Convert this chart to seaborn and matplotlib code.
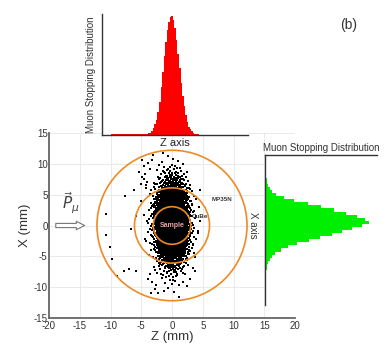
import numpy as np
import pandas as pd
import matplotlib
matplotlib.use("Agg")
import matplotlib.pyplot as plt
from matplotlib.patches import Circle
import seaborn as sns

# ---------------- data ----------------
# Z-profile (red histogram), 0.25 mm bins from -5 to 5, peak = 100
z_centers = np.arange(-4.875, 5.0, 0.25)
z_counts = [1, 1, 1, 1, 2, 2, 3, 6, 9, 13, 19, 28, 40, 53, 66, 78, 88, 95, 99, 100,
            97, 90, 80, 68, 56, 44, 33, 24, 17, 11, 7, 5, 3, 2, 1, 1, 1, 0, 0, 0]
z_tail_center = [-7.5]      # faint low tail from -10 to -5 mm
z_tail_count = [1]

# X-profile (green histogram), 0.5 mm bins from -8 to 8, peak = 100
x_centers = np.arange(-7.75, 8.0, 0.5)
x_counts = [1, 2, 2, 3, 5, 7, 10, 15, 22, 31, 42, 53, 64, 74, 84, 93,
            100, 96, 88, 78, 66, 54, 41, 28, 18, 11, 7, 5, 3, 2, 2, 1]
x_tail_centers = [-10.5, 9.5]   # faint tails (-13..-8, 8..11 mm)
x_tail_counts = [0.5, 0.5]

# density of the scatter cloud along Z (0.5 mm bins, -6..6) and X (1 mm bins, -12..12)
cloud_z_centers = np.arange(-5.75, 6.0, 0.5)
cloud_z_density = [0.05, 0.1, 0.2, 0.5, 1.5, 4, 10, 22, 40, 63, 85, 98,
                   98, 85, 63, 40, 22, 10, 4, 1.5, 0.5, 0.2, 0.1, 0.05]
cloud_x_centers = np.arange(-11.5, 12.0, 1.0)
cloud_x_density = [0.3, 0.5, 1, 2.5, 5, 10, 19, 32, 48, 66, 83, 95,
                   100, 95, 83, 66, 48, 32, 19, 10, 5, 2.5, 1, 0.5]
n_stopped = 3400

# sparse stopping points away from the core (Z, X) in mm
out_z = [-10.8, -10.1, -9.7, -8.9, -7.0, -7.8, -6.2, -4.5, -5.9, -7.7, -4.8, -3.1, -1.5,
         4.3, 4.6, 3.5, 3.7, -3.4, -2.6, 2.4, -4.2, -6.7, -10.8, -5.9,
         -5.3, -4.9, -4.4, -4.0, -3.6, -3.9, -5.0, -4.6, -3.3, -4.2,
         -3.9, -3.3, -2.7, -3.6, -2.2]
out_x = [-1.5, -3.5, -5.4, -8.2, -7.1, -7.4, 5.7, 7.5, 1.5, 4.8, 10.7, 11.5, 11.8,
         -0.9, 5.8, -4.4, -7.4, -10.9, -9.6, -9.8, -2.5, -0.6, 1.9, -7.4,
         8.7, 7.9, 8.3, 7.0, 9.2, 10.1, 6.8, 9.6, 10.6, 6.1,
         -8.6, -9.2, -10.3, -7.8, -11.0]

# geometry rings (radius, mm) and labels
ring_radii = [12.2, 6.1, 3.05]
ring_labels = ["MP35N", "CuBe", "Sample"]

# ---------------- build scatter cloud from the density profiles ----------------
def halton(k, base):
    f, r = 1.0, 0.0
    while k > 0:
        f /= base
        r += f * (k % base)
        k //= base
    return r

def inverse_cdf(q, centers, dens):
    centers = np.asarray(centers, float)
    w = centers[1] - centers[0]
    edges = np.concatenate([centers - w / 2, [centers[-1] + w / 2]])
    cdf = np.concatenate([[0.0], np.cumsum(np.asarray(dens, float))])
    cdf = cdf / cdf[-1]
    return np.interp(q, cdf, edges)

hu = np.array([halton(k, 2) for k in range(1, n_stopped + 1)])
hv = np.array([halton(k, 3) for k in range(1, n_stopped + 1)])
pz = np.concatenate([inverse_cdf(hu, cloud_z_centers, cloud_z_density), out_z])
px = np.concatenate([inverse_cdf(hv, cloud_x_centers, cloud_x_density), out_x])
cloud = pd.DataFrame({"Z": pz, "X": px})

zdf = pd.DataFrame({"Z": list(z_tail_center) + list(z_centers),
                    "w": list(z_tail_count) + list(z_counts)})
z_edges = [-10.0] + [float(e) for e in np.arange(-5.0, 5.01, 0.25)]
xdf = pd.DataFrame({"X": list(x_tail_centers[:1]) + list(x_centers) + list(x_tail_centers[1:]),
                    "w": list(x_tail_counts[:1]) + list(x_counts) + list(x_tail_counts[1:])})
x_edges = [-13.0] + [float(e) for e in np.arange(-8.0, 8.01, 0.5)] + [11.0]

# ---------------- figure ----------------
sns.set_style("white")
plt.rcParams["font.family"] = ["Liberation Sans", "DejaVu Sans"]
plt.rcParams["axes.unicode_minus"] = False
W, H = 391, 346
fig = plt.figure(figsize=(W / 100, H / 100), dpi=100)

def rect(l, t, r, b):
    return [l / W, 1 - b / H, (r - l) / W, (b - t) / H]

spine_col = "#666666"
ax = fig.add_axes(rect(49, 133, 295, 318))
ax.set_xlim(-20, 20)
ax.set_ylim(-15, 15)
ax.set_xticks(range(-20, 21, 5))
ax.set_yticks(range(-15, 16, 5))
ax.grid(True, color="#e6e6e6", lw=0.6)
ax.set_axisbelow(True)
for s in ["top", "right"]:
    ax.spines[s].set_visible(False)
for s in ["left", "bottom"]:
    ax.spines[s].set_color(spine_col)
    ax.spines[s].set_linewidth(1.3)
ax.tick_params(direction="in", length=2, width=0.6, color=spine_col,
               labelsize=7, labelcolor="#333333")
ax.tick_params(axis="x", pad=2)
ax.tick_params(axis="y", pad=1)

sns.scatterplot(data=cloud, x="Z", y="X", s=0.7, color="black", linewidth=0,
                marker="s", ax=ax, legend=False, zorder=2)

for r in ring_radii:
    ax.add_patch(Circle((0, 0), r, fill=False, ec="#ef8a25", lw=1.2, zorder=3))

ax.text(8.1, 4.2, ring_labels[0], fontsize=4.5, fontweight="bold", color="#333333",
        ha="center", va="center", zorder=4)
ax.text(4.6, 1.4, ring_labels[1], fontsize=4.5, fontweight="bold", color="#333333",
        ha="center", va="center", zorder=4)
ax.text(0, 0, ring_labels[2], fontsize=5, fontweight="bold", color="#e9a2a2",
        ha="center", va="center", zorder=4)

ax.annotate("", xy=(-14.2, 0), xytext=(-18.9, 0),
            arrowprops=dict(arrowstyle="simple,head_length=0.6,head_width=0.6,tail_width=0.3",
                            fc="white", ec="#777777", lw=0.8, mutation_scale=10,
                            shrinkA=0, shrinkB=0), zorder=4)
ax.text(-16.4, 3.6, r"$\vec{P}_{\mu}$", fontsize=11, color="#444444",
        ha="center", va="center")

ax.set_xlabel("Z (mm)", fontsize=9.5, color="#333333", labelpad=0)
ax.set_ylabel("X (mm)", fontsize=9.5, color="#333333", labelpad=2)

# ---------------- top (Z) histogram ----------------
axr = fig.add_axes(rect(102, 14, 248, 135))
sns.histplot(data=zdf, x="Z", weights="w", bins=z_edges,
             color="#ff0000", alpha=1, linewidth=0, ax=axr)
axr.set_xlim(-11.5, 12.2)
axr.set_ylim(0, 101.7)
axr.set_xticks([])
axr.set_yticks([])
for s in ["top", "right"]:
    axr.spines[s].set_visible(False)
for s in ["left", "bottom"]:
    axr.spines[s].set_color("#333333")
    axr.spines[s].set_linewidth(1.0)
axr.set_xlabel("Z axis", fontsize=8, color="#222222", labelpad=2)
axr.set_ylabel("Muon Stopping Distribution", fontsize=7, color="#333333", labelpad=4)

# ---------------- right (X) histogram ----------------
axg = fig.add_axes(rect(265, 155, 377, 305))
sns.histplot(data=xdf, y="X", weights="w", bins=x_edges,
             color="#00ee00", alpha=1, linewidth=0, ax=axg)
axg.set_ylim(-13.2, 11.2)
axg.set_xlim(0, 107.7)
axg.set_xticks([])
axg.set_yticks([])
axg.set_xlabel("")
axg.set_ylabel("")
for s in ["bottom", "right"]:
    axg.spines[s].set_visible(False)
for s in ["left", "top"]:
    axg.spines[s].set_color("#333333")
    axg.spines[s].set_linewidth(1.0)
axg.set_title("Muon Stopping Distribution", fontsize=7, color="#333333", pad=3)
axg.text(-0.107, 0.53, "X axis", rotation=270, fontsize=7, color="#333333",
         ha="center", va="center", transform=axg.transAxes)

fig.text(349 / W, 1 - 25 / H, "(b)", fontsize=10, color="#333333", ha="center", va="center")

fig.savefig("out.png", dpi=100)
